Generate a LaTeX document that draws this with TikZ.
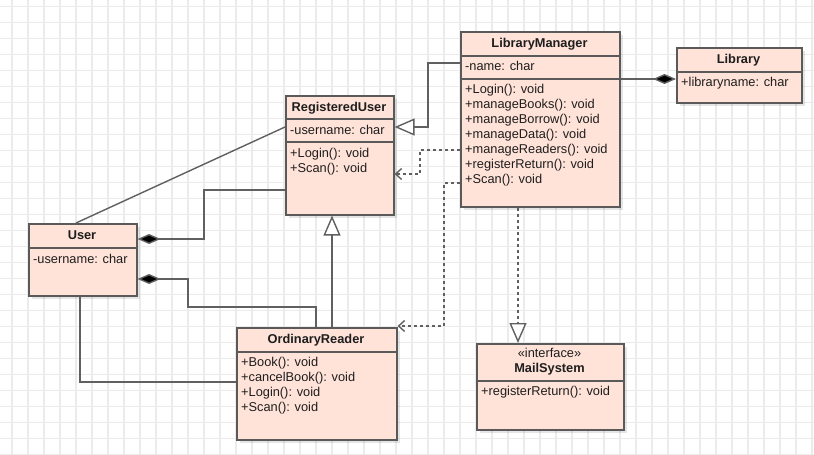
\documentclass[tikz,border=0pt]{standalone}
\usepackage{fontspec}
\setmainfont{Liberation Sans}
\usetikzlibrary{arrows.meta,shadows}
\definecolor{boxfill}{HTML}{FFE2D8}
\definecolor{boxline}{HTML}{5A5A5A}
\definecolor{gridc}{HTML}{EBEBEB}
\definecolor{linkc}{HTML}{606060}
\definecolor{txtc}{HTML}{1E1E1E}
\tikzset{
  umlbox/.style={draw=boxline, line width=1.6pt, fill=boxfill, anchor=north west, inner sep=0pt,
    drop shadow={shadow xshift=3pt, shadow yshift=-3pt, fill=black, opacity=0.10}},
  sepline/.style={draw=boxline, line width=1.6pt},
  txt/.style={anchor=west, inner sep=0pt, text height=10.3pt, text depth=1.7pt, text=txtc,
    font=\fontsize{12.8}{15}\selectfont},
  head/.style={anchor=center, inner sep=0pt, text height=10.3pt, text depth=1.7pt, text=txtc,
    font=\fontsize{12.8}{15}\selectfont\bfseries},
  stereo/.style={anchor=center, inner sep=0pt, text height=10.3pt, text depth=1.7pt, text=txtc,
    font=\fontsize{12.8}{15}\selectfont},
  link/.style={draw=linkc, line width=1.4pt},
  gen/.style={link, -{Triangle[open, length=20pt, width=17pt, fill=white]}},
  real/.style={link, dash pattern=on 3pt off 3pt, -{Triangle[open, length=20pt, width=17pt, fill=white]}},
  dep/.style={link, dash pattern=on 3pt off 3pt, -{Straight Barb[length=6pt, width=11pt]}},
  comp/.style={link, {Diamond[length=23pt, width=10pt, fill=black]}-},
}
\begin{document}
\begin{tikzpicture}[x=1pt, y=-1pt]
\useasboundingbox (0,0) rectangle (814,455);
\fill[white] (0,0) rectangle (814,455);
% grid
\foreach \gx in {12,28,...,812} \draw[gridc, line width=1.3pt] (\gx,0) -- (\gx,455);
\foreach \gy in {6.7,22.7,...,455} \draw[gridc, line width=1.3pt] (0,\gy) -- (814,\gy);

% LibraryManager
\node[umlbox, minimum width=159pt, minimum height=175pt] (lm) at (460,31) {};
\draw[sepline] (lm.west |- 0,56) -- (lm.east |- 0,56);
\draw[sepline] (lm.west |- 0,79) -- (lm.east |- 0,79);
\node[head] (lmh) at (539.5,43.5) {LibraryManager};
\node[txt] (lma) at (465,66) {-name: char};
\node[txt] (lm1) at (465,89.3) {+Login(): void};
\node[txt] (lm2) at (465,104.3) {+manageBooks(): void};
\node[txt] (lm3) at (465,119.3) {+manageBorrow(): void};
\node[txt] (lm4) at (465,134.3) {+manageData(): void};
\node[txt] (lm5) at (465,149.3) {+manageReaders(): void};
\node[txt] (lm6) at (465,164.3) {+registerReturn(): void};
\node[txt] (lm7) at (465,179.3) {+Scan(): void};

% Library
\node[umlbox, minimum width=125pt, minimum height=55pt] (lib) at (676,47) {};
\draw[sepline] (lib.west |- 0,72) -- (lib.east |- 0,72);
\node[head] (libh) at (738.5,59.5) {Library};
\node[txt] (liba) at (681,82.3) {+libraryname: char};

% RegisteredUser
\node[umlbox, minimum width=108pt, minimum height=119pt] (ru) at (285,95) {};
\draw[sepline] (ru.west |- 0,119) -- (ru.east |- 0,119);
\draw[sepline] (ru.west |- 0,142) -- (ru.east |- 0,142);
\node[head] (ruh) at (339,107) {RegisteredUser};
\node[txt] (rua) at (290,130) {-username: char};
\node[txt] (ru1) at (290,153.3) {+Login(): void};
\node[txt] (ru2) at (290,168.3) {+Scan(): void};

% User
\node[umlbox, minimum width=108pt, minimum height=72pt] (user) at (28,223) {};
\draw[sepline] (user.west |- 0,248) -- (user.east |- 0,248);
\node[head] (userh) at (82,235.5) {User};
\node[txt] (usera) at (33,259) {-username: char};

% OrdinaryReader
\node[umlbox, minimum width=160pt, minimum height=112pt] (or) at (236,327) {};
\draw[sepline] (or.west |- 0,352) -- (or.east |- 0,352);
\node[head] (orh) at (316,339.5) {OrdinaryReader};
\node[txt] (or1) at (241,362.3) {+Book(): void};
\node[txt] (or2) at (241,377.3) {+cancelBook(): void};
\node[txt] (or3) at (241,392.3) {+Login(): void};
\node[txt] (or4) at (241,407.3) {+Scan(): void};

% MailSystem
\node[umlbox, minimum width=147pt, minimum height=86pt] (ms) at (476,343) {};
\draw[sepline] (ms.west |- 0,381) -- (ms.east |- 0,381);
\node[stereo] (mss) at (549.5,353.3) {«interface»};
\node[head] (msh) at (549.5,368.3) {MailSystem};
\node[txt] (ms1) at (481,391) {+registerReturn(): void};

% connectors
\draw[gen] (lm.west |- 0,63) -| (428,127) -- (ru.east |- 0,127);
\draw[comp] (lib.west |- 0,79) -- (lm.east |- 0,79);
\draw[dep] (lm.west |- 0,150) -| (420,174) -- (ru.east |- 0,174);
\draw[dep] (lm.west |- 0,183) -| (444,326) -- (or.east |- 0,326);
\draw[real] (lm.south -| 518,0) -- (ms.north -| 518,0);
\draw[link] (ru.west |- 0,127) -- (user.north -| 76,0);
\draw[comp] (user.east |- 0,239) -| (204,190) -- (ru.west |- 0,190);
\draw[comp] (user.east |- 0,279) -| (188,307) -| (or.north -| 316,0);
\draw[gen] (or.north -| 332,0) -- (ru.south -| 332,0);
\draw[link] (user.south -| 80,0) |- (or.west |- 0,382);
\end{tikzpicture}
\end{document}
